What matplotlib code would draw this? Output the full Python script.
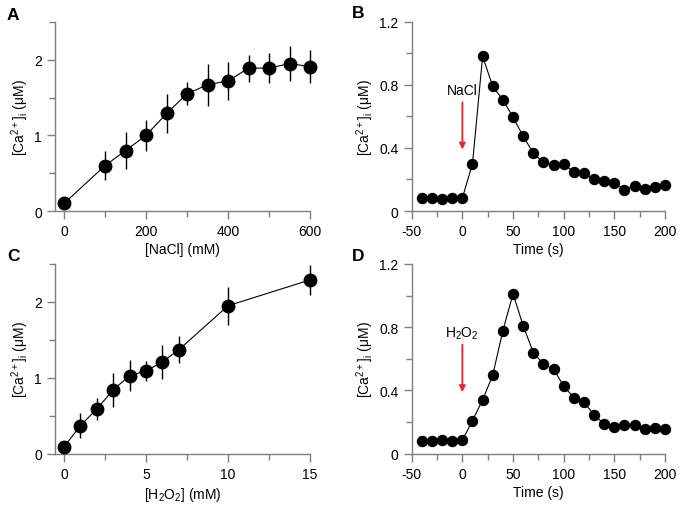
import matplotlib
matplotlib.use("Agg")
import matplotlib.pyplot as plt
from matplotlib.ticker import MultipleLocator

plt.rcParams['font.family'] = ['Liberation Sans', 'DejaVu Sans']
plt.rcParams['mathtext.fontset'] = 'custom'
plt.rcParams['mathtext.rm'] = 'Liberation Sans'
plt.rcParams['mathtext.it'] = 'Liberation Sans'
plt.rcParams['axes.unicode_minus'] = False

# Panel A: NaCl dose response
nacl_mM = [0, 100, 150, 200, 250, 300, 350, 400, 450, 500, 550, 600]
ca_nacl = [0.10, 0.60, 0.80, 1.00, 1.29, 1.55, 1.67, 1.72, 1.89, 1.89, 1.95, 1.91]
err_nacl = [0.0, 0.19, 0.25, 0.21, 0.26, 0.15, 0.28, 0.25, 0.18, 0.20, 0.23, 0.22]

# Panel C: H2O2 dose response
h2o2_mM = [0, 1, 2, 3, 4, 5, 6, 7, 10, 15]
ca_h2o2 = [0.09, 0.37, 0.59, 0.84, 1.03, 1.09, 1.21, 1.37, 1.95, 2.29]
err_h2o2 = [0.0, 0.16, 0.15, 0.23, 0.21, 0.13, 0.22, 0.18, 0.25, 0.20]

# Panel B / D: time courses
time_s = [-40, -30, -20, -10, 0, 10, 20, 30, 40, 50, 60, 70, 80, 90, 100,
          110, 120, 130, 140, 150, 160, 170, 180, 190, 200]
ca_time_nacl = [0.082, 0.085, 0.078, 0.080, 0.082, 0.30, 0.98, 0.79, 0.705, 0.594,
                0.475, 0.366, 0.308, 0.290, 0.298, 0.247, 0.239, 0.200, 0.192,
                0.177, 0.135, 0.160, 0.139, 0.154, 0.165]
ca_time_h2o2 = [0.078, 0.080, 0.089, 0.078, 0.084, 0.21, 0.34, 0.498, 0.778, 1.012,
                0.81, 0.64, 0.567, 0.536, 0.428, 0.354, 0.325, 0.247, 0.186,
                0.169, 0.181, 0.181, 0.156, 0.164, 0.156]

ylab = r'[Ca$^{2+}$]$_{\mathrm{i}}$ ($\mu$M)'
W, H = 683, 506
fig = plt.figure(figsize=(W / 100, H / 100), dpi=100)

def axbox(l, r, t, b):
    return [l / W, 1 - b / H, (r - l) / W, (b - t) / H]

axA = fig.add_axes(axbox(55, 310, 23, 212))
axB = fig.add_axes(axbox(411.7, 665, 22.7, 212))
axC = fig.add_axes(axbox(55, 310, 265, 454.7))
axD = fig.add_axes(axbox(411.7, 665, 265, 454.7))

spine_col = '#7f7f7f'

def style(ax):
    for s in ['top', 'right']:
        ax.spines[s].set_visible(False)
    for s in ['left', 'bottom']:
        ax.spines[s].set_color(spine_col)
        ax.spines[s].set_linewidth(1.0)
    ax.tick_params(which='both', direction='out', color=spine_col, labelsize=10,
                   width=1.0, labelcolor='black')
    ax.tick_params(which='major', length=6)
    ax.tick_params(which='minor', length=4)

# A
axA.errorbar(nacl_mM, ca_nacl, yerr=err_nacl, fmt='o-', color='black', ms=9,
             lw=0.8, elinewidth=1.0, capsize=0, clip_on=False, zorder=3)
axA.set_xlim(-22, 600)
axA.set_ylim(0, 2.5)
axA.xaxis.set_major_locator(MultipleLocator(200))
axA.xaxis.set_minor_locator(MultipleLocator(100))
axA.yaxis.set_major_locator(MultipleLocator(1))
axA.yaxis.set_minor_locator(MultipleLocator(0.5))
axA.set_xlabel('[NaCl] (mM)', fontsize=10, labelpad=3)
axA.set_ylabel(ylab, fontsize=10, labelpad=2)
style(axA)

# C
axC.errorbar(h2o2_mM, ca_h2o2, yerr=err_h2o2, fmt='o-', color='black', ms=9,
             lw=0.8, elinewidth=1.0, capsize=0, clip_on=False, zorder=3)
axC.set_xlim(-0.55, 15)
axC.set_ylim(0, 2.5)
axC.xaxis.set_major_locator(MultipleLocator(5))
axC.xaxis.set_minor_locator(MultipleLocator(2.5))
axC.yaxis.set_major_locator(MultipleLocator(1))
axC.yaxis.set_minor_locator(MultipleLocator(0.5))
axC.set_xlabel(r'[H$_2$O$_2$] (mM)', fontsize=10, labelpad=3)
axC.set_ylabel(ylab, fontsize=10, labelpad=2)
style(axC)

# B and D
for ax, ys, lab in [(axB, ca_time_nacl, 'NaCl'), (axD, ca_time_h2o2, r'H$_2$O$_2$')]:
    ax.plot(time_s, ys, 'o-', color='black', ms=7.2, lw=0.8, clip_on=False, zorder=3)
    ax.set_xlim(-50, 200)
    ax.set_ylim(0, 1.2)
    ax.xaxis.set_major_locator(MultipleLocator(50))
    ax.xaxis.set_minor_locator(MultipleLocator(25))
    ax.yaxis.set_major_locator(MultipleLocator(0.4))
    ax.yaxis.set_minor_locator(MultipleLocator(0.2))
    ax.yaxis.set_major_formatter(matplotlib.ticker.FuncFormatter(
        lambda v, p: '0' if abs(v) < 1e-9 else f'{v:.1f}'))
    ax.set_xlabel('Time (s)', fontsize=10, labelpad=3)
    ax.set_ylabel(ylab, fontsize=10, labelpad=2)
    ax.annotate('', xy=(0, 0.39), xytext=(0, 0.69),
                arrowprops=dict(arrowstyle='-|>', color='#e8262a', lw=1.3,
                                mutation_scale=9, shrinkA=0, shrinkB=0))
    ax.text(0, 0.765, lab, ha='center', va='center', fontsize=10)
    style(ax)

for x, y, s in [(13, 15, 'A'), (358, 14, 'B'), (13, 257, 'C'), (358, 257, 'D')]:
    fig.text(x / W, 1 - y / H, s, fontsize=12.5, fontweight='bold',
             ha='center', va='center')

fig.savefig('out.png', dpi=100)
